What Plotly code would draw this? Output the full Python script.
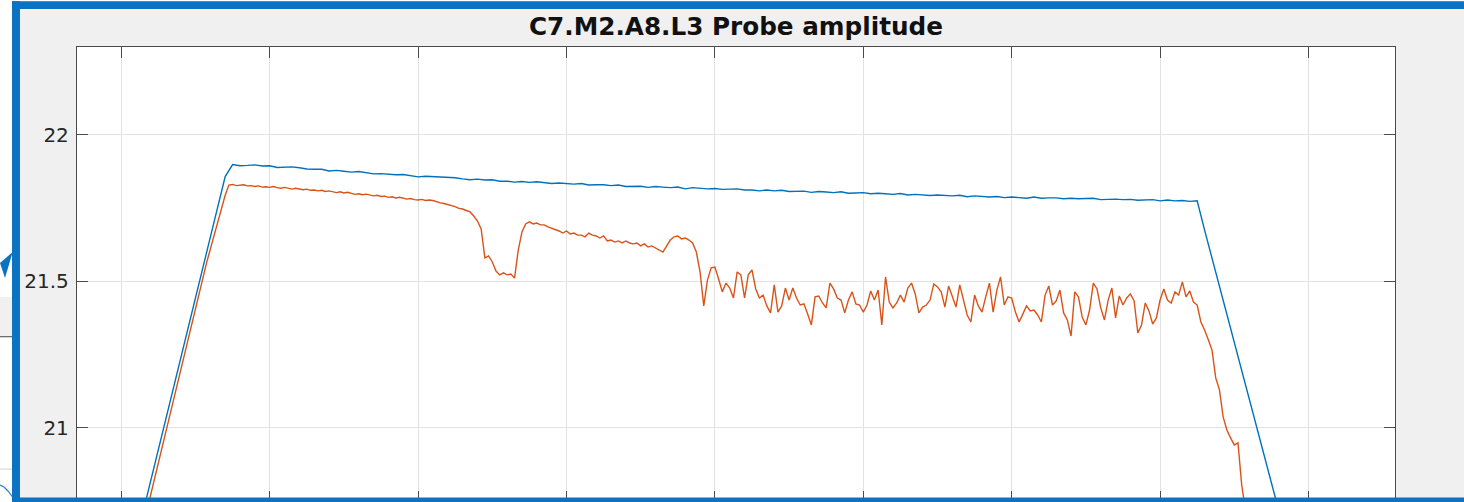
import numpy as np
import plotly.graph_objects as go

W, H = 1464, 502
# plot box edges in figure pixels
L, R, T, B = 77, 1395, 47, 502

title_text = "C7.M2.A8.L3 Probe amplitude"
x_ticks = [40, 80, 120, 160, 200, 240, 280, 320, 360]
y_ticks = [21.0, 21.5, 22.0]
y_tick_text = ["21", "21.5", "22"]
x_range = [28.06, 383.32]
y_range = [20.746, 22.3006]

# --- blue probe trace: (first sample, sample step, amplitudes) ---
blue_rise_start, blue_step = 44, 2
blue_rise = [20.615, 20.719, 20.823, 20.926, 21.030, 21.133, 21.237, 21.340,
             21.444, 21.547, 21.651, 21.754, 21.858]
blue_flat_start = 70
blue_flat = [
    21.899, 21.895, 21.896, 21.898, 21.894, 21.895, 21.889, 21.890, 21.891, 21.888,
    21.884, 21.883, 21.883, 21.877, 21.879, 21.876, 21.873, 21.875, 21.870, 21.867,
    21.868, 21.865, 21.864, 21.865, 21.861, 21.857, 21.859, 21.858, 21.855, 21.854,
    21.854, 21.850, 21.847, 21.849, 21.846, 21.847, 21.842, 21.842, 21.839, 21.841,
    21.838, 21.840, 21.837, 21.834, 21.836, 21.834, 21.832, 21.834, 21.829, 21.830,
    21.830, 21.827, 21.829, 21.824, 21.825, 21.825, 21.821, 21.824, 21.822, 21.820,
    21.822, 21.816, 21.820, 21.818, 21.816, 21.817, 21.814, 21.815, 21.816, 21.812,
    21.812, 21.809, 21.812, 21.809, 21.811, 21.807, 21.808, 21.808, 21.804, 21.807,
    21.805, 21.803, 21.806, 21.801, 21.802, 21.803, 21.799, 21.801, 21.799, 21.797,
    21.800, 21.795, 21.797, 21.796, 21.793, 21.795, 21.794, 21.792, 21.794, 21.789,
    21.792, 21.790, 21.788, 21.790, 21.786, 21.788, 21.787, 21.784, 21.788, 21.784,
    21.785, 21.785, 21.782, 21.784, 21.782, 21.782, 21.784, 21.779, 21.781, 21.781,
    21.779, 21.780, 21.777, 21.778, 21.779, 21.775, 21.778, 21.775, 21.776, 21.773,
    21.775]
blue_fall_start = 332
blue_fall = [21.675, 21.579, 21.483, 21.388, 21.292, 21.196, 21.100, 21.004,
             20.908, 20.812, 20.716, 20.620]

# --- orange probe trace ---
orange_step = 1
orange_rise_start = 45
orange_rise = [20.617, 20.670, 20.723, 20.776, 20.829, 20.882, 20.935, 20.988,
               21.041, 21.094, 21.147, 21.200, 21.253, 21.306, 21.359, 21.412,
               21.465, 21.518, 21.564, 21.610, 21.656, 21.702, 21.748, 21.794]
orange_flat_start = 69
orange_flat = [
    21.829, 21.831, 21.827, 21.828, 21.830, 21.826, 21.827, 21.824, 21.826, 21.822,
    21.823, 21.821, 21.824, 21.820, 21.818, 21.821, 21.817, 21.815, 21.818, 21.815,
    21.813, 21.815, 21.811, 21.812, 21.809, 21.811, 21.807, 21.809, 21.806, 21.803,
    21.806, 21.802, 21.804, 21.800, 21.797, 21.799, 21.796, 21.798, 21.794, 21.792,
    21.794, 21.790, 21.791, 21.787, 21.789, 21.785, 21.787, 21.784, 21.781, 21.783,
    21.779, 21.778, 21.780, 21.776, 21.778, 21.776, 21.771, 21.768, 21.766, 21.763,
    21.758, 21.755, 21.749, 21.747, 21.742, 21.737]
orange_dip_start = 135
orange_dip = [
    21.723, 21.706, 21.679, 21.580, 21.587, 21.566, 21.535, 21.522, 21.529, 21.522,
    21.525, 21.511, 21.607, 21.669, 21.696, 21.703, 21.696, 21.699, 21.693, 21.693,
    21.686, 21.682, 21.676, 21.672, 21.665, 21.672, 21.662, 21.665, 21.658, 21.658,
    21.652, 21.665, 21.658, 21.655, 21.648, 21.655, 21.638, 21.641, 21.634, 21.638,
    21.631, 21.638, 21.631, 21.628, 21.631, 21.621, 21.628, 21.617, 21.621, 21.614,
    21.607, 21.600, 21.621, 21.641, 21.652, 21.655, 21.645, 21.648, 21.641, 21.631,
    21.600, 21.532, 21.416, 21.505, 21.546, 21.549]
orange_noise_start = 201
orange_noise = [
    21.508, 21.464, 21.494, 21.477, 21.443, 21.532, 21.522, 21.443, 21.522, 21.539,
    21.474, 21.443, 21.453, 21.416, 21.392, 21.488, 21.395, 21.416, 21.477, 21.436,
    21.477, 21.443, 21.419, 21.423, 21.388, 21.351, 21.447, 21.450, 21.426, 21.409,
    21.494, 21.474, 21.443, 21.436, 21.392, 21.436, 21.464, 21.423, 21.419, 21.395,
    21.419, 21.467, 21.436, 21.470, 21.351, 21.515, 21.429, 21.409, 21.426, 21.453,
    21.429, 21.477, 21.494, 21.457, 21.392, 21.412, 21.419, 21.436, 21.491, 21.481,
    21.464, 21.412, 21.484, 21.450, 21.412, 21.488, 21.436, 21.385, 21.361, 21.453,
    21.416, 21.395, 21.447, 21.494, 21.395, 21.470, 21.515, 21.419, 21.447, 21.443,
    21.395, 21.361, 21.388, 21.416, 21.399, 21.402, 21.385, 21.361, 21.453, 21.484,
    21.419, 21.433, 21.470, 21.392, 21.368, 21.313, 21.464, 21.447, 21.378, 21.351,
    21.402, 21.494, 21.474, 21.409, 21.368, 21.436, 21.477, 21.375, 21.450, 21.419,
    21.443, 21.457, 21.433, 21.324, 21.351, 21.426, 21.399, 21.354, 21.375, 21.436,
    21.474, 21.436, 21.426, 21.464, 21.453, 21.498, 21.447, 21.467, 21.429, 21.419,
    21.361, 21.334, 21.300, 21.265, 21.170, 21.129, 21.037, 20.992, 20.965, 20.941,
    20.948, 20.804, 20.719]


def segment_x(start, step, values):
    return start + step * np.arange(len(values))


blue_x = np.concatenate([
    segment_x(blue_rise_start, blue_step, blue_rise),
    segment_x(blue_flat_start, blue_step, blue_flat),
    segment_x(blue_fall_start, blue_step, blue_fall),
])
blue_y = np.array(blue_rise + blue_flat + blue_fall)

orange_x = np.concatenate([
    segment_x(orange_rise_start, orange_step, orange_rise),
    segment_x(orange_flat_start, orange_step, orange_flat),
    segment_x(orange_dip_start, orange_step, orange_dip),
    segment_x(orange_noise_start, orange_step, orange_noise),
])
orange_y = np.array(orange_rise + orange_flat + orange_dip + orange_noise)

fig = go.Figure()
fig.add_trace(go.Scatter(x=blue_x, y=blue_y, mode="lines",
                         line=dict(color="#0072BD", width=1.4),
                         hoverinfo="skip", showlegend=False))
fig.add_trace(go.Scatter(x=orange_x, y=orange_y, mode="lines",
                         line=dict(color="#D95319", width=1.4),
                         hoverinfo="skip", showlegend=False))


# helpers to place decorations in figure pixels
def px(xp):
    return (xp - L) / (R - L)


def py(yp):
    return (B - yp) / (B - T)


def rect(x0, y0, x1, y1, color, layer="above"):
    return dict(type="rect", xref="paper", yref="paper",
                x0=px(x0), x1=px(x1), y0=py(y1), y1=py(y0),
                fillcolor=color, line=dict(width=0), layer=layer)


def path(points, fill=None, stroke=None, width=1.0, closed=True):
    d = "M " + " L ".join(f"{px(a):.6f},{py(b):.6f}" for a, b in points)
    if closed:
        d += " Z"
    return dict(type="path", xref="paper", yref="paper", path=d,
                fillcolor=fill if fill else "rgba(0,0,0,0)",
                line=dict(color=stroke if stroke else "rgba(0,0,0,0)", width=width),
                layer="above")


frame_blue = "#0B73C2"
shapes = [
    # window area left of the figure frame
    rect(0, 0, 12.5, H, "#ffffff"),
    rect(0, 297, 12.5, 336, "#f0f0f0"),
    rect(0, 336, 12.5, 337.3, "#6e6e6e"),
    rect(0, 468.5, 12.5, 469.6, "#d6d6d6"),
    path([(0, 263), (12.7, 252), (5, 278)], fill=frame_blue),
    path([(0, 485), (4, 487), (8, 491), (12.5, 497)], stroke="#2f7fc8", width=1.2,
         closed=False),
    # selection frame around the figure
    rect(0, 0, W, 1.3, "#ffffff"),
    rect(12, 1.3, W, 9.3, frame_blue),
    rect(20, 9.3, W, 10.3, "#ffffff"),
    rect(12, 1.3, 20, H, frame_blue),
    rect(12, 497.5, W, H, frame_blue),
]

axis_color = "#4a4a4a"
fig.update_layout(
    width=W, height=H,
    margin=dict(l=L, r=W - R, t=T, b=H - B, pad=0),
    paper_bgcolor="#f0f0f0",
    plot_bgcolor="#ffffff",
    title=dict(text=f"<b>{title_text}</b>", x=0.5, xref="paper", xanchor="center",
               y=1 - 26.5 / H, yref="container", yanchor="middle",
               font=dict(family="DejaVu Sans", size=24.7, color="#111111")),
    font=dict(family="DejaVu Sans", size=20, color="#262626"),
    shapes=shapes,
    xaxis=dict(range=x_range, tickvals=x_ticks, showticklabels=False,
               ticks="inside", ticklen=11, tickwidth=1.3, tickcolor=axis_color,
               showline=True, linecolor=axis_color, linewidth=1.3, mirror="ticks",
               showgrid=True, gridcolor="#e2e2e2", gridwidth=1, zeroline=False),
    yaxis=dict(range=y_range, tickvals=y_ticks, ticktext=y_tick_text,
               ticks="inside", ticklen=11, tickwidth=1.3, tickcolor=axis_color,
               ticklabelstandoff=3,
               showline=True, linecolor=axis_color, linewidth=1.3, mirror="ticks",
               showgrid=True, gridcolor="#e2e2e2", gridwidth=1, zeroline=False),
)

fig.write_html("out.html", config={"displayModeBar": False})
